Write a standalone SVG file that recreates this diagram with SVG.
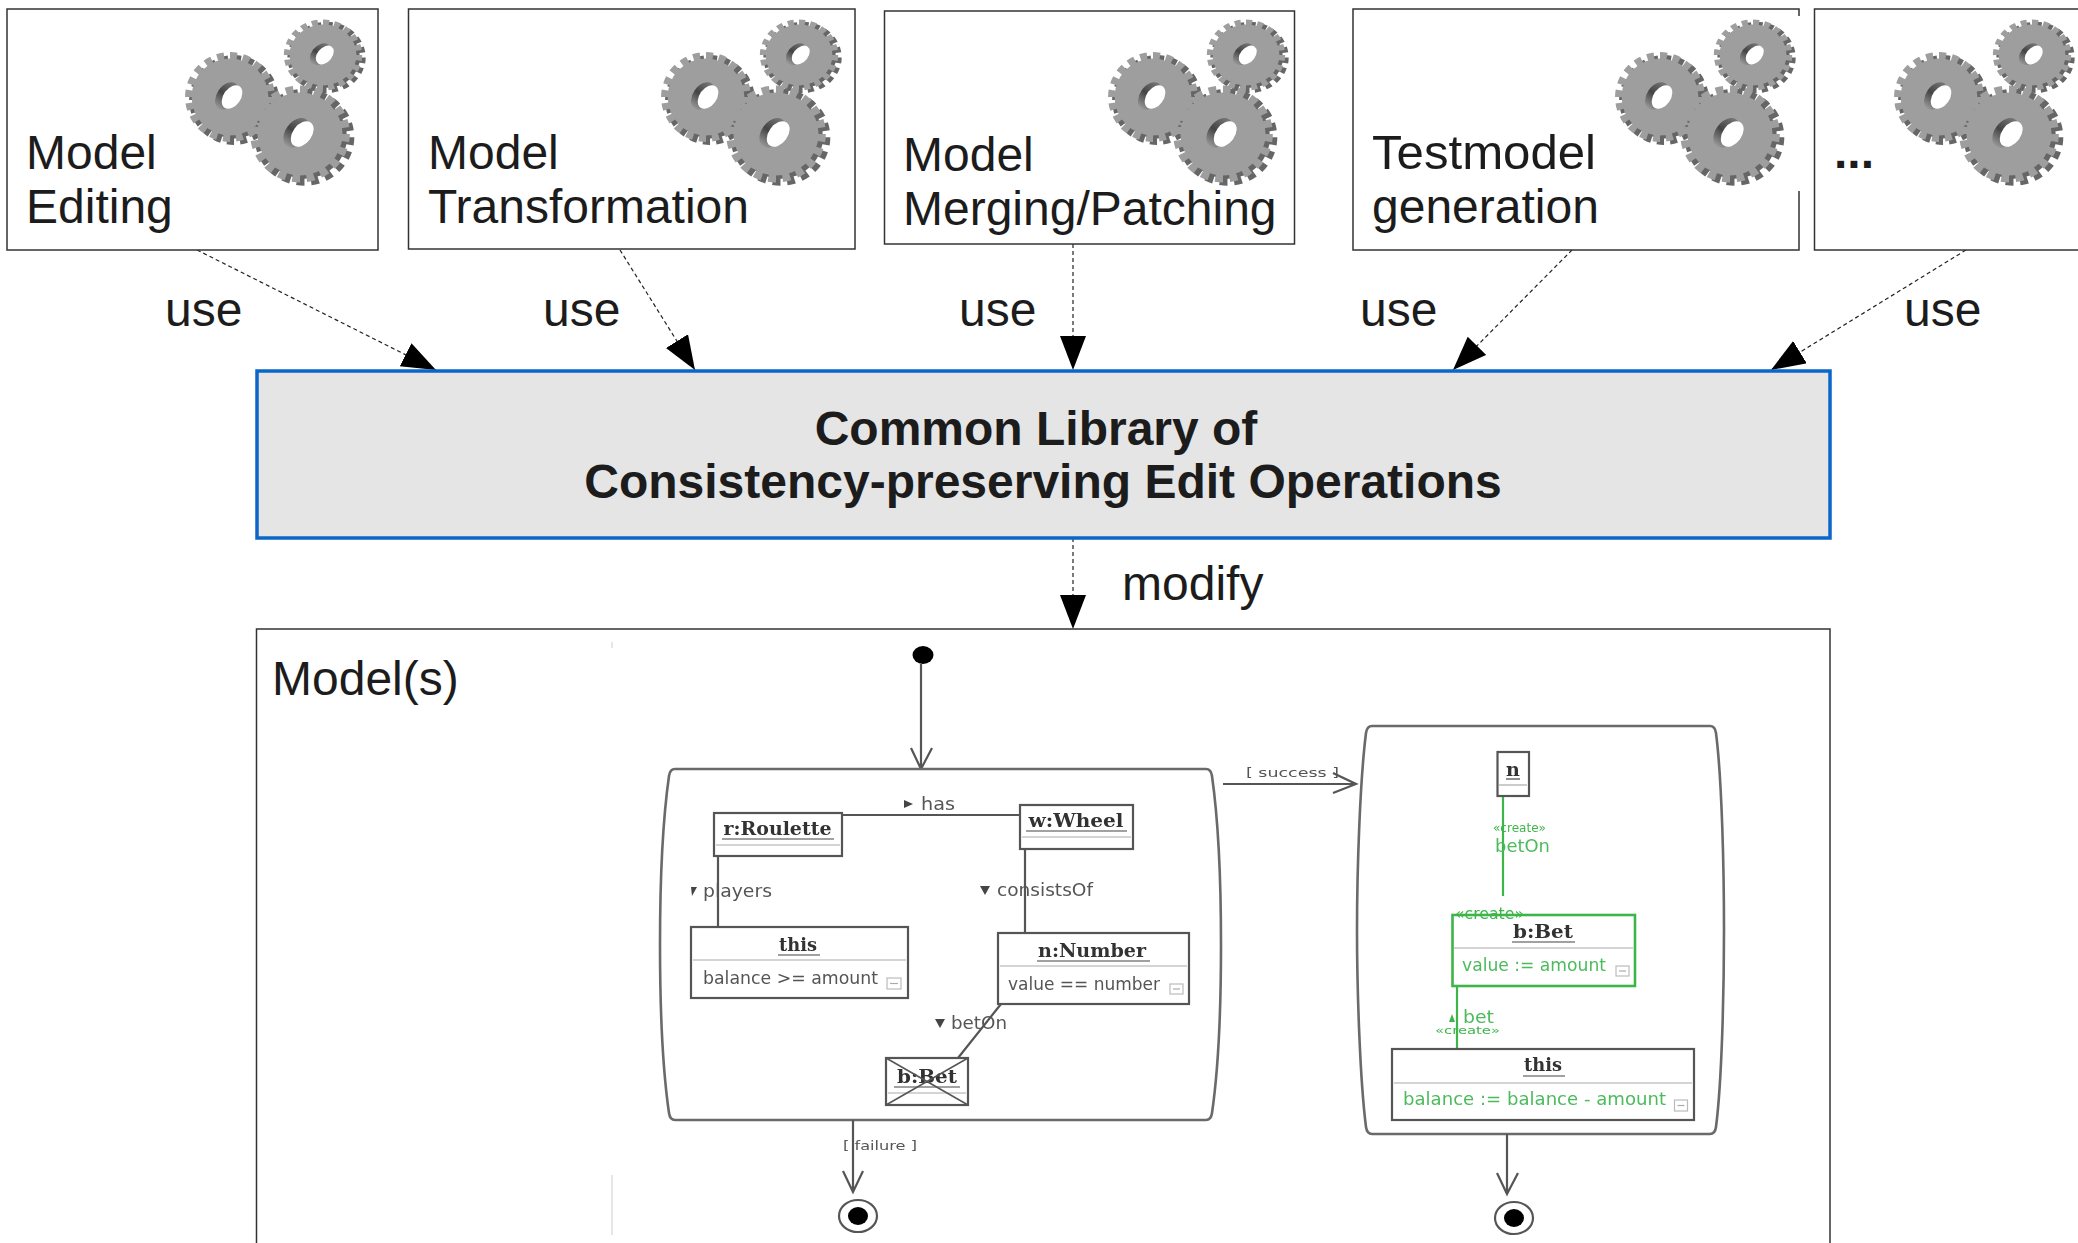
<svg xmlns="http://www.w3.org/2000/svg" width="2078" height="1243" viewBox="0 0 2078 1243">
<style>
.box{fill:#fff;stroke:#333;stroke-width:1.5}
.t48{font:48px "Liberation Sans",Arial,sans-serif;fill:#1c1c1c}
.b48{font:bold 48px "Liberation Sans",Arial,sans-serif;fill:#1c1c1c}
.dash{fill:none;stroke:#222;stroke-width:1.2;stroke-dasharray:4 3;marker-end:url(#tip)}
.frame{fill:#fff;stroke:#6a6a6a;stroke-width:2.6}
.uline{fill:none;stroke:#555;stroke-width:2.2}
.obj{fill:#fff;stroke:#555;stroke-width:2.2}
.objg{fill:#fff;stroke:#3db54a;stroke-width:2.6}
.thin{stroke:#aaa;stroke-width:1.2;fill:none}
.title{font:bold 19px "DejaVu Serif",serif;fill:#333;text-anchor:middle}
.lbl{font:18px "DejaVu Sans",sans-serif;fill:#555}
.grn{font:18px "DejaVu Sans",sans-serif;fill:#4cbb5c}
.sm{font:13px "DejaVu Sans",sans-serif;fill:#555}
.smg{font:13px "DejaVu Sans",sans-serif;fill:#3db54a}
.mini{fill:#fff;stroke:#bbb;stroke-width:1.2}
.cog{fill:currentColor;stroke:none}
.teeth{fill:none;stroke:currentColor;stroke-width:9;stroke-dasharray:2.7 2.3;stroke-linejoin:round}
</style>
<defs>
<marker id="tip" markerUnits="userSpaceOnUse" markerWidth="36" markerHeight="28" refX="34" refY="13" orient="auto"><path d="M0 0L34 13L0 26Z" fill="#000"/></marker>
<linearGradient id="holeG" x1="0" x2="1"><stop offset="0" stop-color="#999"/><stop offset=".5" stop-color="#444"/><stop offset="1" stop-color="#777"/></linearGradient>
<filter id="soft" x="-5%" y="-5%" width="110%" height="110%"><feGaussianBlur stdDeviation="0.6"/></filter>
<g id="cogshape"><circle class="cog" r="38"/><circle class="teeth" r="40" pathLength="100"/></g>
<g id="cog">
<use href="#cogshape" transform="translate(4,3)" color="#666"/>
<use href="#cogshape" color="#9e9e9e"/>
<ellipse cx="-3" cy="-1" rx="15" ry="10" transform="rotate(-55 -3 -1)" fill="url(#holeG)"/>
<ellipse cx="2" cy="0" rx="13" ry="8.5" transform="rotate(-55 2 0)" fill="#fff"/>
</g>
<g id="gears">
<use href="#cog" transform="translate(323,55) scale(.88,.8)"/>
<use href="#cog" transform="translate(230,97) scale(1.01,1.01)"/>
<use href="#cog" transform="translate(300,134) scale(1.12,1.09)"/>
</g>
</defs>

<g id="connectors">
<path class="dash" d="M197 250L436 370"/>
<path class="dash" d="M620 250L695 370"/>
<path class="dash" d="M1073 244V370"/>
<path class="dash" d="M1572 250L1453 370"/>
<path class="dash" d="M1966 250L1771 370"/>
<path class="dash" d="M1073 538V629"/>
</g>

<g id="model-editing">
<rect class="box" x="7" y="9" width="371" height="241"/>
<use href="#gears"/>
<text class="t48" x="26" y="169">Model</text><text class="t48" x="26" y="223">Editing</text>
</g>
<g id="model-transformation">
<rect class="box" x="408.500" y="9" width="446.500" height="240"/>
<use href="#gears" x="476"/>
<text class="t48" x="428" y="169">Model</text><text class="t48" x="428" y="223">Transformation</text>
</g>
<g id="model-merging">
<rect class="box" x="884.500" y="11" width="410" height="233"/>
<use href="#gears" x="923"/>
<text class="t48" x="903" y="171">Model</text><text class="t48" x="903" y="225">Merging/Patching</text>
</g>
<g id="testmodel-generation">
<path class="box" d="M1799 16V9H1353V250H1799V191"/>
<use href="#gears" x="1430"/>
<text class="t48" x="1372" y="169" textLength="224" lengthAdjust="spacingAndGlyphs">Testmodel</text><text class="t48" x="1372" y="223">generation</text>
</g>
<g id="more">
<rect class="box" x="1814.500" y="9" width="280" height="241"/>
<use href="#gears" x="1709"/>
<text class="b48" x="1834" y="168">...</text>
</g>

<g id="use-labels">
<text class="t48" x="165" y="326">use</text>
<text class="t48" x="543" y="326">use</text>
<text class="t48" x="959" y="326">use</text>
<text class="t48" x="1360" y="326">use</text>
<text class="t48" x="1904" y="326">use</text>
<text class="t48" x="1122" y="600">modify</text>
</g>

<g id="library">
<rect x="257" y="371" width="1573" height="167" fill="#e5e5e5" stroke="#0a66c8" stroke-width="3.500"/>
<text class="b48" x="1036" y="445" text-anchor="middle">Common Library of</text>
<text class="b48" x="1043" y="498" text-anchor="middle">Consistency-preserving Edit Operations</text>
</g>

<g id="models">
<rect x="256.500" y="629" width="1573.500" height="640" fill="#fff" stroke="#333" stroke-width="1.5"/>
<text class="t48" x="272" y="695">Model(s)</text>
<path d="M612 642V648M612 1175V1235" stroke="#ccc" stroke-width="1" fill="none"/>
</g>

<g id="uml" filter="url(#soft)">
<g id="initial"><ellipse cx="923" cy="655" rx="10.500" ry="9" fill="#000"/></g>
<path class="uline" d="M921 664V769M911 748L921 769L932 748"/>

<g id="state-left">
<path class="frame" d="M675 769H1206Q1211 769 1212 776C1219 825 1221 890 1221 945C1221 1000 1219 1065 1212 1113Q1211 1120 1206 1120H675Q670 1120 669 1113C662 1065 660 1000 660 945C660 890 662 825 669 776Q670 769 675 769Z"/>
</g>
<path class="uline" d="M842 815H1020M718 856V927M1025 849V933M1001 1004L958 1058"/>
<g id="r-roulette">
<rect class="obj" x="714" y="813" width="128" height="43"/>
<text class="title" x="777.500" y="835" textLength="108" lengthAdjust="spacingAndGlyphs">r:Roulette</text>
<path d="M722 839H834" stroke="#444" stroke-width="1.2"/><path class="thin" d="M716 845H840"/>
</g>
<g id="w-wheel">
<rect class="obj" x="1020" y="805" width="113" height="44"/>
<text class="title" x="1076" y="827" textLength="95" lengthAdjust="spacingAndGlyphs">w:Wheel</text>
<path d="M1026 831H1127" stroke="#444" stroke-width="1.2"/><path class="thin" d="M1022 837H1131"/>
</g>
<g id="this-left">
<rect class="obj" x="691" y="927" width="217" height="71"/>
<text class="title" x="798" y="951" textLength="38" lengthAdjust="spacingAndGlyphs">this</text>
<path d="M778 955H820" stroke="#444" stroke-width="1.2"/><path class="thin" d="M693 960H906"/>
<text class="lbl" x="703" y="984" textLength="175" lengthAdjust="spacingAndGlyphs">balance &gt;= amount</text>
<rect class="mini" x="887" y="978" width="14" height="11"/><path class="thin" d="M890 983.500H898"/>
</g>
<g id="n-number">
<rect class="obj" x="998" y="933" width="191" height="71"/>
<text class="title" x="1092" y="957" textLength="108" lengthAdjust="spacingAndGlyphs">n:Number</text>
<path d="M1037 961H1150" stroke="#444" stroke-width="1.2"/><path class="thin" d="M1000 966H1187"/>
<text class="lbl" x="1008" y="990" textLength="152" lengthAdjust="spacingAndGlyphs">value == number</text>
<rect class="mini" x="1170" y="984" width="13" height="10"/><path class="thin" d="M1173 989H1180"/>
</g>
<g id="b-bet-del">
<rect class="obj" x="886" y="1058" width="82" height="47"/>
<text class="title" x="927" y="1083" textLength="60" lengthAdjust="spacingAndGlyphs">b:Bet</text>
<path d="M894 1087H960" stroke="#444" stroke-width="1.2"/><path class="thin" d="M888 1093H966"/>
<path d="M886 1058L968 1105M968 1058L886 1105" stroke="#555" stroke-width="1.5" fill="none"/>
</g>
<g id="assoc-labels">
<path d="M904 800L913 804L904 808Z" fill="#444"/><text class="lbl" x="921" y="810" textLength="34" lengthAdjust="spacingAndGlyphs">has</text>
<path d="M691 887L697 887L692 896Z" fill="#444"/><text class="lbl" x="703" y="897" textLength="69" lengthAdjust="spacingAndGlyphs">players</text>
<path d="M980 886L990 886L985 895Z" fill="#444"/><text class="lbl" x="997" y="896" textLength="96" lengthAdjust="spacingAndGlyphs">consistsOf</text>
<path d="M935 1019L945 1019L940 1028Z" fill="#444"/><text class="lbl" x="951" y="1029" textLength="56" lengthAdjust="spacingAndGlyphs">betOn</text>
</g>
<path class="uline" d="M853 1120V1192M843 1171L853 1192L863 1171"/>
<text class="sm" x="843" y="1150" textLength="74" lengthAdjust="spacingAndGlyphs">[ failure ]</text>
<g id="final-left"><ellipse cx="858" cy="1216" rx="19" ry="16" fill="#fff" stroke="#555" stroke-width="2.2"/><ellipse cx="858" cy="1216" rx="10" ry="9" fill="#000"/></g>

<path class="uline" d="M1223 784H1356M1333 773L1356 784L1333 793"/>
<text class="sm" x="1246" y="777" textLength="93" lengthAdjust="spacingAndGlyphs">[ success ]</text>

<g id="state-right">
<path class="frame" d="M1372 726H1710Q1715 726 1716 733C1722 780 1724 870 1724 930C1724 990 1722 1080 1716 1127Q1715 1134 1710 1134H1372Q1367 1134 1366 1127C1360 1080 1357 990 1357 930C1357 870 1360 780 1366 733Q1367 726 1372 726Z"/>
</g>
<path d="M1503 796V896M1457 986V1049" stroke="#3db54a" stroke-width="2.2" fill="none"/>
<g id="n-new">
<rect class="obj" x="1497.500" y="752" width="31.500" height="44"/>
<text class="title" x="1513" y="776">n</text>
<path d="M1506 779H1520" stroke="#444" stroke-width="1.2"/><path class="thin" d="M1499 785H1527"/>
<text class="smg" x="1493" y="832" textLength="53" lengthAdjust="spacingAndGlyphs">«create»</text>
<text class="grn" x="1495" y="852" textLength="55" lengthAdjust="spacingAndGlyphs">betOn</text>
</g>
<g id="b-bet-new">
<rect class="objg" x="1452.500" y="915" width="182.500" height="71"/>
<text x="1455" y="919" textLength="69" lengthAdjust="spacingAndGlyphs" style="font:16px 'DejaVu Sans',sans-serif;fill:#3db54a">«create»</text>
<text class="title" x="1543" y="938" textLength="60" lengthAdjust="spacingAndGlyphs">b:Bet</text>
<path d="M1512 942H1575" stroke="#444" stroke-width="1.2"/><path class="thin" d="M1454 948H1633"/>
<text class="grn" x="1462" y="971" textLength="144" lengthAdjust="spacingAndGlyphs">value := amount</text>
<rect class="mini" x="1616" y="966" width="13" height="10"/><path class="thin" d="M1619 971H1626"/>
</g>
<g id="bet-label">
<path d="M1449 1022L1455 1022L1452 1014Z" fill="#3db54a"/>
<text class="grn" x="1463" y="1023" textLength="31" lengthAdjust="spacingAndGlyphs">bet</text>
<text class="smg" style="font-size:11px" x="1435" y="1034" textLength="65" lengthAdjust="spacingAndGlyphs">«create»</text>
</g>
<g id="this-right">
<rect class="obj" x="1392" y="1049" width="302" height="71"/>
<text class="title" x="1543" y="1071" textLength="38" lengthAdjust="spacingAndGlyphs">this</text>
<path d="M1523 1076H1565" stroke="#444" stroke-width="1.2"/><path class="thin" d="M1394 1083H1692"/>
<text class="grn" x="1403" y="1105" textLength="263" lengthAdjust="spacingAndGlyphs">balance := balance - amount</text>
<rect class="mini" x="1674.500" y="1100" width="13" height="11"/><path class="thin" d="M1677.500 1105.500H1684.500"/>
</g>
<path class="uline" d="M1507 1134V1194M1497 1173L1507 1194L1518 1173"/>
<g id="final-right"><ellipse cx="1514" cy="1218" rx="19" ry="16" fill="#fff" stroke="#555" stroke-width="2.2"/><ellipse cx="1514" cy="1218" rx="10" ry="9" fill="#000"/></g>
</g>
</svg>
